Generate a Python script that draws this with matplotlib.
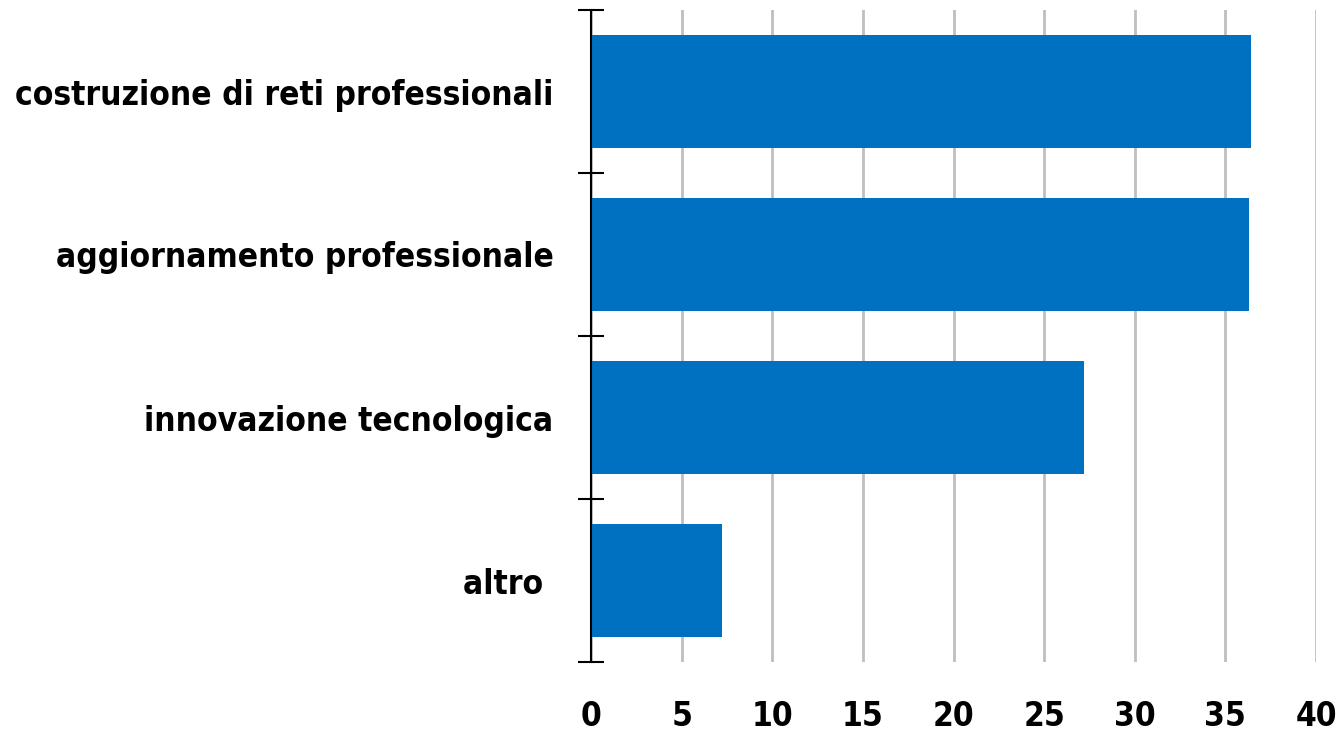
import matplotlib
matplotlib.use("Agg")
import matplotlib.pyplot as plt
from matplotlib.ticker import FixedLocator
import numpy as np

categories = ["costruzione di reti professionali", "aggiornamento professionale",
              "innovazione tecnologica", "altro "]
values = [36.4, 36.3, 27.2, 7.2]
xticks = [0, 5, 10, 15, 20, 25, 30, 35, 40]

plt.rcParams['font.family'] = ['DejaVu Sans']
plt.rcParams['font.stretch'] = 'condensed'

fig = plt.figure(figsize=(13.41, 7.33), dpi=100)
ax = fig.add_axes([591/1341, 1-662/733, (1316-591)/1341, (662-10)/733])

pos = np.arange(len(categories))
ax.barh(pos, values, height=0.69, color="#0070C0", zorder=3)
ax.set_ylim(len(categories)-0.5, -0.5)
ax.set_xlim(0, 40)

ax.set_xticks(xticks)
ax.set_xticklabels([str(t) for t in xticks], fontsize=24, fontweight='bold')
ax.tick_params(axis='x', length=0, pad=27)

ax.yaxis.set_major_locator(FixedLocator(np.arange(-0.5, len(categories), 1.0)))
ax.yaxis.set_major_formatter(plt.NullFormatter())
ax.yaxis.set_minor_locator(FixedLocator(pos))
ax.set_yticklabels(categories, minor=True, fontsize=24, fontweight='bold')
ax.tick_params(axis='y', which='major', direction='inout', length=19, width=1.5, color='black')
ax.tick_params(axis='y', which='minor', length=0, pad=27)

for s in ['top', 'right', 'bottom']:
    ax.spines[s].set_visible(False)
ax.spines['left'].set_linewidth(1.5)
ax.spines['left'].set_zorder(4)

ax.grid(axis='x', color='#BFBFBF', linewidth=2, zorder=0)
ax.grid(axis='y', visible=False)

fig.savefig("out.png", dpi=100)
